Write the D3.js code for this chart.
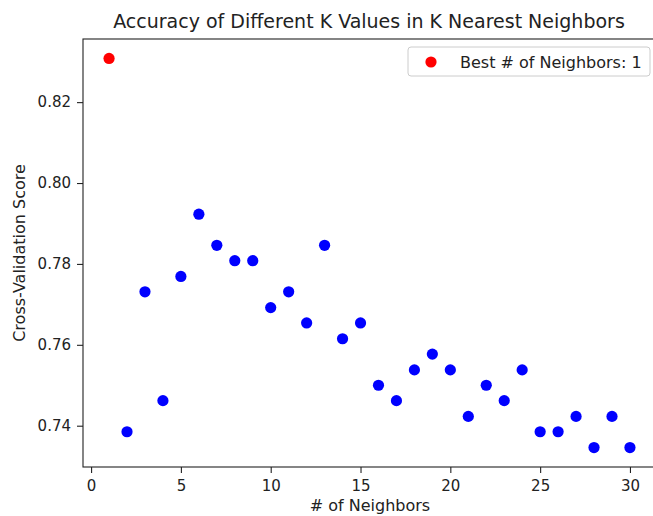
<!DOCTYPE html>
<html>
<head>
<meta charset="utf-8">
<script src="https://cdn.jsdelivr.net/npm/d3@7"></script>
<style>
  html, body { margin: 0; padding: 0; background: #fff; }
  svg { display: block; font-family: "DejaVu Sans", sans-serif; }
</style>
</head>
<body>
<script>
// Cross-validation accuracy for each K in K nearest neighbors
const neighbors = d3.range(1, 31);
const scores = [
  0.8308, 0.7385, 0.7731, 0.7462, 0.7769, 0.7923, 0.7846, 0.7808, 0.7808, 0.7692,
  0.7731, 0.7654, 0.7846, 0.7615, 0.7654, 0.7500, 0.7462, 0.7538, 0.7577, 0.7538,
  0.7423, 0.7500, 0.7462, 0.7538, 0.7385, 0.7385, 0.7423, 0.7346, 0.7423, 0.7346
];
const bestK = 1;
const bestScore = 0.8308;
const xTicks = [0, 5, 10, 15, 20, 25, 30];
const yTicks = [0.74, 0.76, 0.78, 0.80, 0.82];
const titleText = "Accuracy of Different K Values in K Nearest Neighbors";
const xLabelText = "# of Neighbors";
const yLabelText = "Cross-Validation Score";
const legendText = "Best # of Neighbors: " + bestK;

const W = 653, H = 516;
const margin = { left: 83, right: -3, top: 39, bottom: 49 };
const iw = W - margin.left - margin.right;
const ih = H - margin.top - margin.bottom;

const svg = d3.select("body").append("svg").attr("width", W).attr("height", H);

// 5% padding around the data range on both axes
const xMin = d3.min(neighbors), xMax = d3.max(neighbors);
const xPad = (xMax - xMin) * 0.05;
const yMin = d3.min(scores), yMax = d3.max(scores);
const yPad = (yMax - yMin) * 0.05;

const x = d3.scaleLinear().domain([xMin - xPad, xMax + xPad]).range([0, iw]);
const y = d3.scaleLinear().domain([yMin - yPad, yMax + yPad]).range([ih, 0]);

const g = svg.append("g").attr("transform", `translate(${margin.left},${margin.top})`);

// Points
g.selectAll("circle.pt")
  .data(neighbors.map((k, i) => ({ k, s: scores[i] })).filter(d => d.k !== bestK))
  .join("circle")
  .attr("class", "pt")
  .attr("cx", d => x(d.k))
  .attr("cy", d => y(d.s))
  .attr("r", 5.6)
  .attr("fill", "#0000ff");

g.append("circle")
  .attr("cx", x(bestK))
  .attr("cy", y(bestScore))
  .attr("r", 5.6)
  .attr("fill", "#ff0000");

// Axes
const xAxis = g.append("g").attr("transform", `translate(0,${ih})`)
  .call(d3.axisBottom(x).tickValues(xTicks).tickFormat(d3.format("d")).tickSize(6).tickPadding(7));
const yAxis = g.append("g")
  .call(d3.axisLeft(y).tickValues(yTicks).tickFormat(d3.format(".2f")).tickSize(6).tickPadding(6));

[xAxis, yAxis].forEach(a => {
  a.selectAll("text").attr("font-size", 15).attr("fill", "#222").attr("font-family", "DejaVu Sans, sans-serif");
  a.selectAll("line").attr("stroke", "#222").attr("stroke-width", 1.1);
  a.select(".domain").remove();
});

// Frame
g.append("rect").attr("x", 0).attr("y", 0).attr("width", iw).attr("height", ih)
  .attr("fill", "none").attr("stroke", "#222").attr("stroke-width", 1.1);

// Title and axis labels
svg.append("text").attr("x", 369).attr("y", 28).attr("text-anchor", "middle")
  .attr("font-size", 19).attr("fill", "#222").text(titleText);
svg.append("text").attr("x", 370).attr("y", 511).attr("text-anchor", "middle")
  .attr("font-size", 16).attr("fill", "#222").text(xLabelText);
svg.append("text").attr("transform", `translate(25,${margin.top + ih / 2}) rotate(-90)`)
  .attr("text-anchor", "middle").attr("font-size", 16).attr("fill", "#222").text(yLabelText);

// Legend
const lg = svg.append("g").attr("transform", "translate(408,47)");
lg.append("rect").attr("width", 242).attr("height", 29).attr("rx", 3)
  .attr("fill", "#fff").attr("fill-opacity", 0.8).attr("stroke", "#ccc").attr("stroke-width", 1);
lg.append("circle").attr("cx", 23).attr("cy", 15).attr("r", 5.6).attr("fill", "#ff0000");
lg.append("text").attr("x", 52).attr("y", 20.5).attr("font-size", 16).attr("fill", "#222").text(legendText);
</script>
</body>
</html>
